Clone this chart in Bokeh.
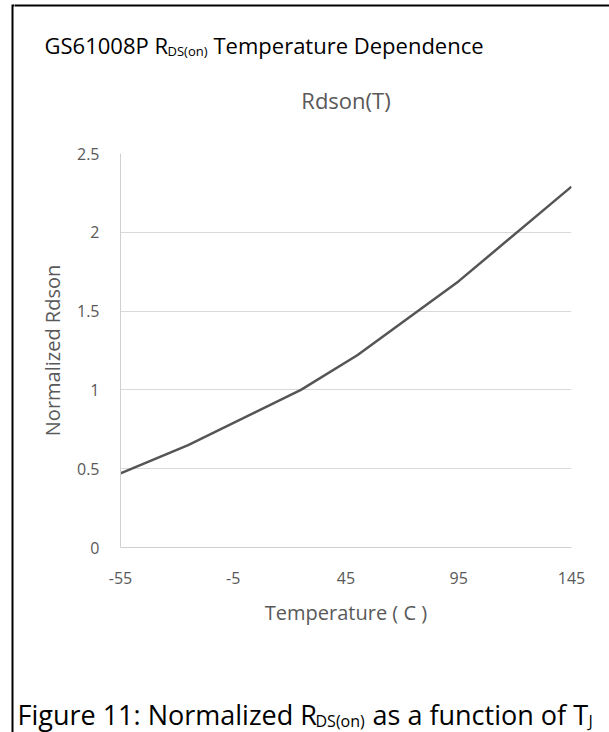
from bokeh.plotting import figure
from bokeh.layouts import row, column
from bokeh.models import Range1d, FixedTicker, CustomJSTickFormatter
from bokeh.core.properties import value
from bokeh.embed import file_html
from bokeh.resources import INLINE

# ---- data ----
temps = [-55, -25, 25, 50, 95, 145]
rdson = [0.47, 0.65, 1.0, 1.22, 1.69, 2.29]
x_ticks = [-55, -5, 45, 95, 145]
y_ticks = [0, 0.5, 1, 1.5, 2, 2.5]

chart_title = "Rdson(T)"
x_label = "Temperature ( C )"
y_label = "Normalized Rdson"
heading_parts = ["GS61008P R", "DS(on)", "Temperature Dependence"]
caption_parts = ["Figure 11: Normalized R", "DS(on)", "as a function of T", "J"]

FONT = "Open Sans"
GRAY = "#595959"

TOTAL_W, TOTAL_H = 609, 732
STRIP_W = 14
HEAD_H = 140
CHART_H = 500
CAP_H = TOTAL_H - HEAD_H - CHART_H
MAIN_W = TOTAL_W - STRIP_W
FL, FR, FT, FB = 120, 571, 153, 547  # chart frame edges (page coords)


def blank(width, height, x0, y0):
    f = figure(width=width, height=height, output_backend="svg",
               toolbar_location=None, x_axis_location=None, y_axis_location=None,
               x_range=Range1d(x0, x0 + width), y_range=Range1d(y0 + height, y0),
               min_border=0, frame_align=False)
    f.min_border_left = f.min_border_right = 0
    f.min_border_top = f.min_border_bottom = 0
    f.outline_line_color = None
    f.grid.visible = False
    f.background_fill_color = "white"
    f.border_fill_color = "white"
    return f


def txt(f, s, x, y, size, color="black", align="left"):
    f.text(x=[x], y=[y], text=[s], text_font=value(FONT),
           text_font_size=value(f"{size}px"), text_color=color,
           text_align=value(align), text_baseline=value("middle"))


# ---- left strip with the frame's left edge ----
strip = blank(STRIP_W, TOTAL_H, 0, 0)
strip.line([12, 12, STRIP_W + 1], [TOTAL_H + 5, 5, 5], line_color="black",
           line_width=2, line_join="miter")

# ---- heading ----
head = blank(MAIN_W, HEAD_H, STRIP_W, 0)
head.line([STRIP_W - 1, TOTAL_W + 1], [5, 5], line_color="black", line_width=2)
txt(head, heading_parts[0], 44, 44, 22)
txt(head, heading_parts[1], 167, 50, 13)
txt(head, heading_parts[2], 213, 44, 22)
txt(head, chart_title, (FL + FR) / 2, 99, 22, GRAY, "center")

# ---- chart ----
p = figure(width=MAIN_W, height=CHART_H, output_backend="svg",
           toolbar_location=None, frame_align=False,
           x_range=Range1d(-55, 145), y_range=Range1d(0, 2.5),
           min_border_left=FL - STRIP_W, min_border_right=TOTAL_W - FR,
           min_border_top=FT - HEAD_H, min_border_bottom=HEAD_H + CHART_H - FB)
p.outline_line_color = None
p.background_fill_color = "white"
p.border_fill_color = "white"
p.xgrid.visible = False
p.ygrid.grid_line_color = "#d9d9d9"
p.ygrid.grid_line_width = 1
p.ygrid.ticker = FixedTicker(ticks=y_ticks)

fmt = CustomJSTickFormatter(code="return String(Math.round(tick*10)/10);")
for ax, ticks in ((p.xaxis, x_ticks), (p.yaxis, y_ticks)):
    ax.ticker = FixedTicker(ticks=ticks)
    ax.formatter = fmt
    ax.major_tick_line_color = None
    ax.minor_tick_line_color = None
    ax.axis_line_color = "#d0d0d0"
    ax.axis_line_width = 1
    ax.major_label_text_color = GRAY
    ax.major_label_text_font = FONT
    ax.major_label_text_font_size = "16px"
    ax.axis_label_text_color = GRAY
    ax.axis_label_text_font = FONT
    ax.axis_label_text_font_size = "20px"
    ax.axis_label_text_font_style = "normal"

p.xaxis.axis_label = x_label
p.yaxis.axis_label = y_label
p.xaxis.major_label_standoff = 18
p.xaxis.axis_label_standoff = 12
p.yaxis.major_label_standoff = 15
p.yaxis.axis_label_standoff = 8

p.line(temps, rdson, line_color="#555555", line_width=2.5)

# ---- caption ----
cap = blank(MAIN_W, CAP_H, STRIP_W, HEAD_H + CHART_H)
txt(cap, caption_parts[0], 17, 714, 27)
txt(cap, caption_parts[1], 315, 720, 16)
txt(cap, caption_parts[2], 372, 714, 27)
txt(cap, caption_parts[3], 588, 720, 16)

layout = row(strip, column(head, p, cap))
open("out.html", "w").write(file_html(layout, INLINE))
